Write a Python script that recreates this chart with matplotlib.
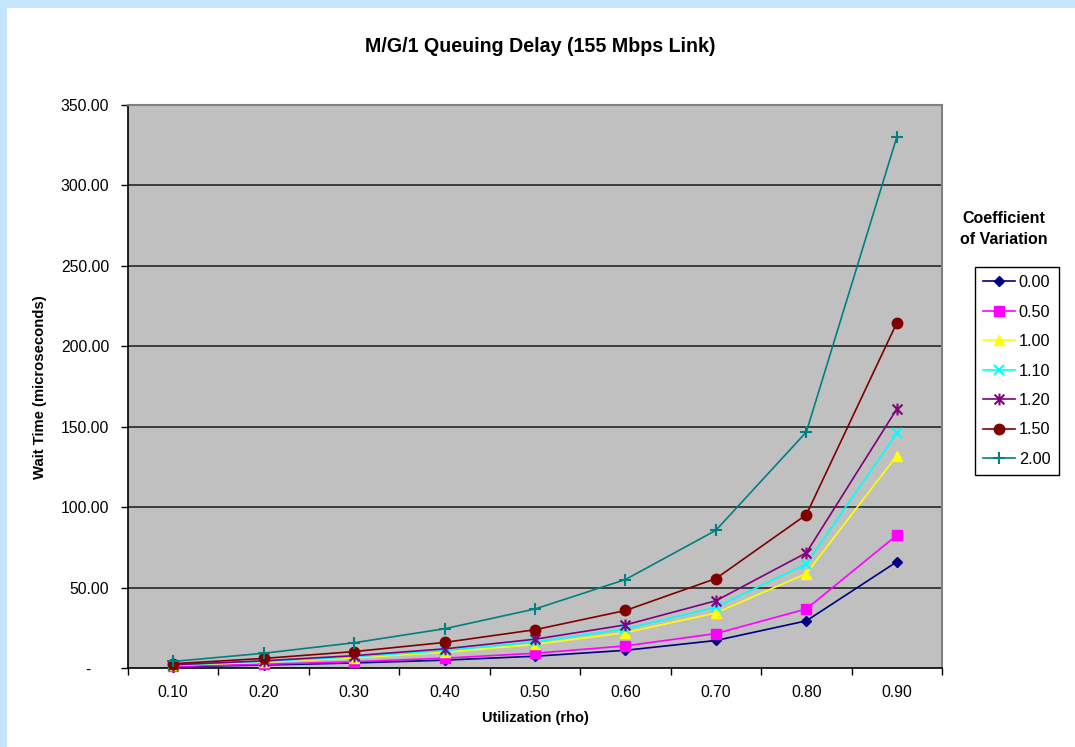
import matplotlib
matplotlib.use("Agg")
import matplotlib.pyplot as plt
from matplotlib.patches import Rectangle
from matplotlib.path import Path
from matplotlib.ticker import FixedLocator, FuncFormatter

plt.rcParams['font.family'] = ['Liberation Sans', 'DejaVu Sans']

utilization = ["0.10", "0.20", "0.30", "0.40", "0.50", "0.60", "0.70", "0.80", "0.90"]
series_names = ["0.00", "0.50", "1.00", "1.10", "1.20", "1.50", "2.00"]
cv_000 = [0.81, 1.83, 3.14, 4.89, 7.33, 11.0, 17.1, 29.3, 66.0]
cv_050 = [1.02, 2.29, 3.93, 6.11, 9.17, 13.75, 21.4, 36.7, 82.5]
cv_100 = [1.63, 3.67, 6.29, 9.78, 14.67, 22.0, 34.2, 58.7, 132.0]
cv_110 = [1.80, 4.05, 6.95, 10.8, 16.2, 24.3, 37.8, 64.8, 145.9]
cv_120 = [1.99, 4.47, 7.67, 11.9, 17.9, 26.8, 41.8, 71.6, 161.0]
cv_150 = [2.65, 5.96, 10.2, 15.9, 23.8, 35.75, 55.6, 95.3, 214.5]
cv_200 = [4.07, 9.17, 15.7, 24.4, 36.7, 55.0, 85.6, 146.7, 330.0]
y_ticks = [0, 50, 100, 150, 200, 250, 300, 350]

# Excel-style asterisk marker: an "x" plus a vertical bar
asterisk = Path([(-1, -1), (1, 1), (-1, 1), (1, -1), (0, -1.2), (0, 1.2)],
                [Path.MOVETO, Path.LINETO, Path.MOVETO, Path.LINETO, Path.MOVETO, Path.LINETO])

series = [cv_000, cv_050, cv_100, cv_110, cv_120, cv_150, cv_200]
colors = ["#000080", "#FF00FF", "#FFFF00", "#00FFFF", "#800080", "#800000", "#008080"]
markers = ["D", "s", "^", "x", asterisk, "o", "+"]
msizes = [5, 6.5, 7, 7, 8.5, 7.5, 8]

W, H = 1075, 747
fig = plt.figure(figsize=(W / 100, H / 100), dpi=100, facecolor="white")

# light blue frame (left and top)
fig.patches.append(Rectangle((0, 0), 7 / W, 1, transform=fig.transFigure,
                             facecolor="#C5E5FD", edgecolor="none", zorder=-10))
fig.patches.append(Rectangle((0, 1 - 8 / H), 1, 8 / H, transform=fig.transFigure,
                             facecolor="#C5E5FD", edgecolor="none", zorder=-10))

ax = fig.add_axes([128 / W, 1 - 668 / H, (942 - 128) / W, (668 - 105) / H])
ax.set_facecolor("#C0C0C0")

x = list(range(1, len(utilization) + 1))
for i, (vals, name, c, m, ms) in enumerate(zip(series, series_names, colors, markers, msizes)):
    mew = 1.0 if i in (0, 1, 2, 5) else 1.5
    ax.plot(x, vals, color=c, marker=m, markersize=ms, linewidth=1.2,
            markeredgewidth=mew, markeredgecolor=c, markerfacecolor=c,
            label=name, zorder=3, clip_on=False)

ax.set_xlim(0.5, len(utilization) + 0.5)
ax.set_ylim(0, 350)

ax.yaxis.set_major_locator(FixedLocator(y_ticks))
ax.yaxis.set_major_formatter(FuncFormatter(lambda v, p: "-    " if v == 0 else f"{v:.2f}"))
for yv in y_ticks[1:-1]:
    ax.axhline(yv, color="#1a1a1a", linewidth=1.1, zorder=1)

ax.set_xticks(x)
ax.set_xticklabels(utilization)
ax.set_xticks([i + 0.5 for i in range(0, len(utilization) + 1)], minor=True)
ax.tick_params(axis="x", which="major", length=0, pad=12, labelsize=11.3)
ax.tick_params(axis="x", which="minor", length=5, width=1, direction="out", color="black")
ax.tick_params(axis="y", which="major", length=5, width=1, direction="out", pad=8.5, labelsize=11.3)

for s in ("left", "bottom"):
    ax.spines[s].set_color("black")
    ax.spines[s].set_linewidth(1.2)
for s in ("top", "right"):
    ax.spines[s].set_color("#808080")
    ax.spines[s].set_linewidth(1.5)

fig.text(540 / W, 1 - 47 / H, "M/G/1 Queuing Delay (155 Mbps Link)", ha="center", va="center",
         fontsize=14.1, fontweight="bold")
fig.text(40 / W, 1 - 387 / H, "Wait Time (microseconds)", ha="center", va="center",
         rotation=90, fontsize=10.7, fontweight="bold")
fig.text(535 / W, 1 - 718 / H, "Utilization (rho)", ha="center", va="center",
         fontsize=10.5, fontweight="bold")
fig.text(1004 / W, 1 - 229 / H, "Coefficient\nof Variation", ha="center", va="center",
         fontsize=11.5, fontweight="bold", linespacing=1.5)

leg = ax.legend(loc="upper left", bbox_to_anchor=(975 / W, 1 - 267 / H),
                bbox_transform=fig.transFigure, borderaxespad=0, frameon=True,
                fancybox=False, edgecolor="black", facecolor="white", framealpha=1,
                fontsize=11.7, handlelength=1.95, handletextpad=0.25, labelspacing=0.89,
                borderpad=0.5)
leg.get_frame().set_linewidth(1.0)

fig.savefig("out.png", dpi=100, facecolor="white")
